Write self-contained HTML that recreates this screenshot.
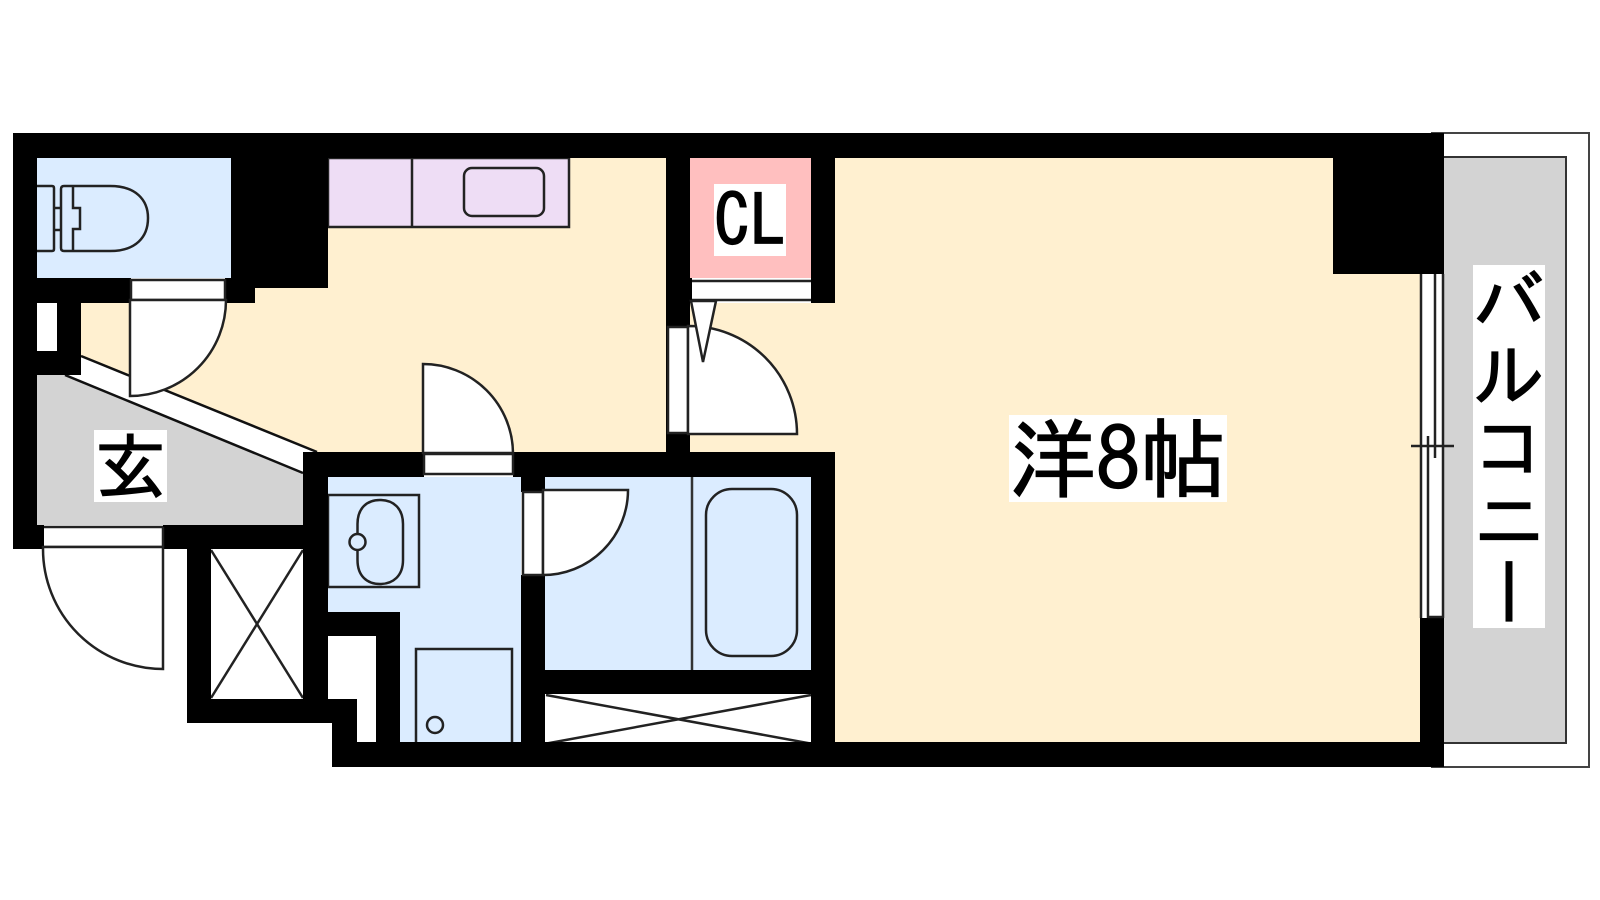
<!DOCTYPE html>
<html lang="ja">
<head>
<meta charset="utf-8">
<title>間取り図</title>
<style>
html,body{margin:0;padding:0;width:1600px;height:900px;background:#fff;overflow:hidden}
svg{position:absolute;left:0;top:0}
.l{position:absolute;background:#fff;color:#000;font-family:"IPAGothic","Liberation Sans","Noto Sans CJK JP",sans-serif;white-space:nowrap;text-align:center;overflow:hidden;-webkit-text-stroke:1.2px #000}
</style>
</head>
<body>
<svg width="1600" height="900" viewBox="0 0 1600 900" xmlns="http://www.w3.org/2000/svg">
<!-- balcony -->
<rect x="1432" y="133" width="157" height="634" fill="#fff" stroke="#444" stroke-width="2"/>
<rect x="1440" y="157" width="126" height="586" fill="#d3d3d3" stroke="#333" stroke-width="2"/>
<!-- rooms -->
<rect x="81" y="158" width="585" height="294" fill="#fff0d0"/>
<rect x="690" y="158" width="730" height="294" fill="#fff0d0"/>
<rect x="835" y="158" width="585" height="584" fill="#fff0d0"/>
<rect x="37" y="158" width="194" height="120" fill="#dbecff"/>
<rect x="690" y="158" width="121" height="120" fill="#ffbfbf"/>
<rect x="328" y="477" width="193" height="135" fill="#dbecff"/>
<rect x="400" y="612" width="121" height="130" fill="#dbecff"/>
<rect x="545" y="477" width="266" height="193" fill="#dbecff"/>
<rect x="545" y="694" width="266" height="48" fill="#fff"/>
<rect x="211" y="549" width="92" height="150" fill="#fff"/>
<!-- kitchen -->
<rect x="328" y="158" width="241" height="69" fill="#eeddf5" stroke="#222" stroke-width="2.500"/>
<line x1="412" y1="158" x2="412" y2="227" stroke="#222" stroke-width="2.500"/>
<rect x="464" y="168" width="80" height="48" rx="8" fill="none" stroke="#222" stroke-width="2.500"/>
<!-- entry -->
<polygon points="65,375 81,375 81,356 317,452 303,452 303,473" fill="#fff"/>
<polygon points="37,375 65,375 303,473 303,525 37,525" fill="#d3d3d3"/>
<line x1="81" y1="356" x2="317" y2="452" stroke="#111" stroke-width="2.500"/>
<line x1="65" y1="375" x2="303" y2="473" stroke="#111" stroke-width="2.500"/>
<!-- toilet -->
<g fill="none" stroke="#222" stroke-width="2.500">
<path d="M37 186H52Q54 186 54 188V249Q54 251 52 251H37"/>
<path d="M54 208H61M54 230H61"/>
<path d="M64 186H110C136 186 148 200 148 218C148 237 136 251 110 251H64Q61 251 61 248V189Q61 186 64 186Z"/>
<path d="M73 186V208H80V229H73V251"/>
</g>
<!-- wash basin -->
<g fill="none" stroke="#222" stroke-width="2.500">
<rect x="328" y="495" width="91" height="92"/>
<path d="M357.500 534V524C357.500 508 367 500 380 500C393 500 403 508 403 524V560C403 576 393 584 380 584C367 584 357.500 576 357.500 560V550"/>
<circle cx="357.500" cy="542" r="8"/>
<path d="M416 742V649H512V742"/>
<circle cx="435" cy="725" r="8"/>
</g>
<!-- bath -->
<line x1="692" y1="477" x2="692" y2="670" stroke="#333" stroke-width="2.500"/>
<rect x="706" y="489" width="91" height="167" rx="26" fill="none" stroke="#222" stroke-width="2.500"/>
<g stroke="#222" stroke-width="2.500" fill="none">
<line x1="546" y1="695" x2="811" y2="743.600"/>
<line x1="811" y1="695" x2="546" y2="743.600"/>
<line x1="211" y1="550" x2="303" y2="698"/>
<line x1="303" y1="550" x2="211" y2="698"/>
</g>
<!-- walls -->
<g fill="#000">
<rect x="13" y="133" width="1431" height="25"/>
<rect x="13" y="133" width="24" height="416"/>
<rect x="37" y="278" width="94" height="25"/>
<rect x="225" y="278" width="30" height="25"/>
<rect x="231" y="158" width="97" height="130"/>
<rect x="57" y="303" width="24" height="72"/>
<rect x="37" y="351" width="44" height="24"/>
<rect x="13" y="525" width="31" height="24"/>
<rect x="163" y="525" width="165" height="24"/>
<rect x="187" y="549" width="24" height="174"/>
<rect x="187" y="699" width="145" height="24"/>
<rect x="328" y="699" width="29" height="24"/>
<rect x="332" y="699" width="25" height="68"/>
<rect x="303" y="452" width="25" height="247"/>
<rect x="328" y="612" width="72" height="24"/>
<rect x="376" y="612" width="24" height="130"/>
<rect x="332" y="742" width="1112" height="25"/>
<rect x="521" y="452" width="24" height="290"/>
<rect x="303" y="452" width="532" height="25"/>
<rect x="545" y="670" width="266" height="24"/>
<rect x="811" y="452" width="24" height="290"/>
<rect x="666" y="158" width="24" height="294"/>
<rect x="690" y="278" width="2" height="25"/>
<rect x="811" y="133" width="24" height="170"/>
<rect x="1333" y="133" width="111" height="141"/>
<rect x="1420" y="618" width="24" height="149"/>
</g>
<!-- window -->
<rect x="1421" y="274" width="23" height="344" fill="#fff"/>
<g stroke="#222" stroke-width="2.500" fill="none">
<line x1="1421" y1="274" x2="1421" y2="618"/>
<line x1="1443" y1="274" x2="1443" y2="618"/>
<line x1="1435" y1="274" x2="1435" y2="458"/>
<line x1="1428" y1="436" x2="1428" y2="618"/>
<line x1="1428" y1="617" x2="1443" y2="617"/>
<line x1="1411" y1="446" x2="1454" y2="446"/>
</g>
<!-- door: toilet -->
<g stroke="#222" stroke-width="2.500" fill="#fff">
<rect x="131" y="278" width="94" height="24" stroke="none"/>
<path d="M131 280H225V300H131Z"/>
<path d="M130 300H226A96 96 0 0 1 130 396Z"/>
<!-- door: entrance -->
<rect x="44" y="525" width="119" height="24" stroke="none"/>
<path d="M44 527H163M44 547H163M163 527V547" fill="none"/>
<path d="M163 547V669A120 120 0 0 1 43 549V547Z"/>
<!-- door: washroom top -->
<rect x="424" y="452" width="89" height="25" stroke="none"/>
<path d="M424 454H513V474H424Z"/>
<path d="M423 453V364A90 90 0 0 1 513 453Z"/>
<!-- door: bath -->
<rect x="521" y="492" width="23" height="83" stroke="none"/>
<path d="M523 492H543V575H523Z"/>
<path d="M543 490H628A85 85 0 0 1 543 575Z"/>
<!-- door: room -->
<rect x="667" y="327" width="21" height="106" stroke="none"/>
<path d="M668 327H688V433H668Z"/>
<path d="M688 327V434H797A108 108 0 0 0 688 326Z"/>
<!-- closet -->
<rect x="692" y="278" width="119" height="25" stroke="none"/>
<path d="M692 281H811M692 300H811" fill="none"/>
<path d="M691 301L703 362L716 301Z"/>
</g>
</svg>
<div class="l" style="left:714px;top:184px;width:72px;height:72px;font-size:72px;line-height:72px">CL</div>
<div class="l" style="left:94px;top:430px;width:73px;height:72px;font-size:72px;line-height:72px">玄</div>
<div class="l" style="left:1009px;top:415px;width:218px;height:87px;font-size:87px;line-height:87px">洋8帖</div>
<div class="l" style="left:1473px;top:265px;width:72px;height:363px;font-size:72px;line-height:72px;writing-mode:vertical-rl;text-orientation:upright;letter-spacing:0.6px">バルコニー</div>
</body>
</html>
